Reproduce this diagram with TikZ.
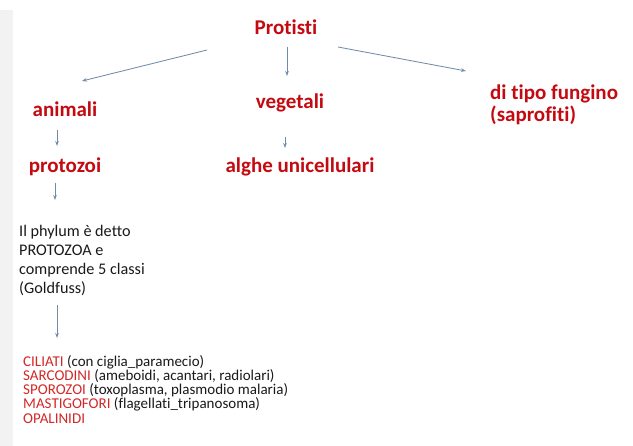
\documentclass[tikz,border=0pt]{standalone}
\usepackage{fontspec}
\setmainfont{Carlito}[Ligatures=CommonOff]
\usetikzlibrary{arrows.meta,calc}
\definecolor{hdred}{RGB}{196,10,16}
\definecolor{lstred}{RGB}{210,40,40}
\definecolor{arrc}{RGB}{112,140,168}
\definecolor{txt}{RGB}{25,25,25}
\tikzset{
  hdr/.style={inner sep=0pt, text=hdred, font=\fontsize{21}{24}\selectfont\bfseries},
  para/.style={inner sep=0pt, anchor=base west, text=txt, font=\fontsize{16.2}{19}\selectfont},
  lst/.style={inner sep=0pt, anchor=base west, text=txt, font=\fontsize{15}{15}\selectfont},
  arr/.style={draw=arrc, line width=0.85pt, -{Stealth[length=5pt,width=3.6pt]}}
}
\begin{document}
\begin{tikzpicture}[x=1pt,y=-1pt]
\useasboundingbox (0,0) rectangle (633,446);
\fill[black!5] (0,10) rectangle (13,446);
% headers
\node[hdr, anchor=base] (prot) at (286,35) {Protisti};
\node[hdr, anchor=base] (anim) at (65,117) {animali};
\node[hdr, anchor=base] (veg) at (290,109) {vegetali};
\node[hdr, anchor=base west] (fung) at (490,100) {di tipo fungino};
\node[hdr, anchor=base west] (sapr) at (490,122) {(saprofiti)};
\node[hdr, anchor=base] (prz) at (65,173) {protozoi};
\node[hdr, anchor=base] (alg) at (300,173) {alghe unicellulari};
% paragraph
\node[para] (p1) at (19,237) {Il phylum è detto};
\node[para] (p2) at (19,256) {PROTOZOA e};
\node[para] (p3) at (19,275) {comprende 5 classi};
\node[para] (p4) at (19,294) {(Goldfuss)};
% list
\node[lst] (l1) at (23,367) {\textcolor{lstred}{CILIATI} (con ciglia\_paramecio)};
\node[lst] (l2) at (23,381) {\textcolor{lstred}{SARCODINI} (ameboidi, acantari, radiolari)};
\node[lst] (l3) at (23,395) {\textcolor{lstred}{SPOROZOI} (toxoplasma, plasmodio malaria)};
\node[lst] (l4) at (23,409) {\textcolor{lstred}{MASTIGOFORI} (flagellati\_tripanosoma)};
\node[lst] (l5) at (23,424) {\textcolor{lstred}{OPALINIDI}};
% connectors
\draw[arr] ($(prot.base)+(-79,15)$) -- ($(anim.base)+(17,-36)$);
\draw[arr] ($(prot.base)+(1,12)$) -- ($(veg.base)+(-3,-33)$);
\draw[arr] ($(prot.base)+(52,12)$) -- ($(fung.base west)+(-24,-29)$);
\draw[arr] ($(anim.base)+(-8,13)$) -- ($(prz.base)+(-8,-27)$);
\draw[arr] ($(veg.base)+(-5,28)$) -- ($(alg.base)+(-15,-25)$);
\draw[arr] ($(prz.base)+(-10,10)$) -- ($(p1.base west)+(36,-37)$);
\draw[arr] ($(p4.base west)+(38,11)$) -- ($(l1.base west)+(34,-29)$);
\end{tikzpicture}
\end{document}
